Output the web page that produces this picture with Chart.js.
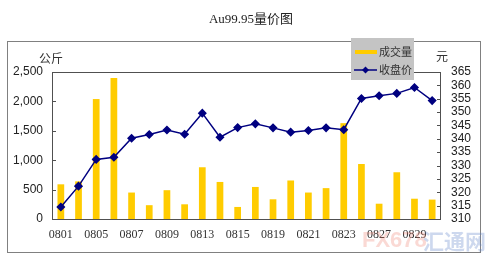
<!DOCTYPE html>
<html><head><meta charset="utf-8">
<script src="https://cdn.jsdelivr.net/npm/chart.js@4/dist/chart.umd.min.js"></script>
<style>html,body{margin:0;padding:0;background:#fff;}#wrap{width:500px;height:269px;position:relative}</style>
</head><body><div id="wrap"><canvas id="c" width="500" height="269"></canvas></div>
<script>
const categories = ['0801','0804','0805','0806','0807','0808','0809','0812','0813','0814','0815','0818','0819','0820','0821','0822','0823','0826','0827','0828','0829','0830'];
const volume = [590,640,2040,2400,450,235,490,250,880,630,205,545,335,655,450,525,1630,935,260,795,345,330];
const closePrice = [314.5,322.3,332.3,333.1,340.2,341.6,343.3,341.7,349.6,340.6,344.2,345.6,344.1,342.5,343.1,344.1,343.4,355.1,356.1,357.0,359.2,354.3];
const seriesNames = ['成交量','收盘价'];
const titleText = 'Au99.95量价图';
const leftUnit = '公斤';
const rightUnit = '元';
const volumeAxis = {min:0, max:2500, step:500};
const priceAxis = {min:310, max:365, step:5};
const watermark = ['FX678','汇通网'];

const BAR = '#FFCC00', LINE = '#000080';
const serif = '"Liberation Serif","Noto Sans CJK SC",serif';
const sans = '"Liberation Sans",Arial,sans-serif';

const decor = {
  id:'decor',
  beforeDraw(chart){
    const ctx = chart.ctx;
    ctx.save();
    ctx.fillStyle='#fff'; ctx.fillRect(0,0,chart.width,chart.height);
    ctx.strokeStyle='#808080'; ctx.lineWidth=1;
    ctx.strokeRect(7.5,41.5,473,211);
    ctx.restore();
  },
  afterDraw(chart){
    const ctx = chart.ctx, a = chart.chartArea;
    const yl = chart.scales.y, yr = chart.scales.y1;
    ctx.save();
    ctx.strokeStyle='#505050'; ctx.lineWidth=1;
    ctx.strokeRect(Math.round(a.left)+0.5, Math.round(a.top)+0.5, Math.round(a.right-a.left)-1, Math.round(a.bottom-a.top));
    yl.ticks.forEach(t=>{const y=Math.round(yl.getPixelForValue(t.value))+0.5;ctx.beginPath();ctx.moveTo(a.left,y);ctx.lineTo(a.left+4,y);ctx.stroke();});
    yr.ticks.forEach(t=>{const y=Math.round(yr.getPixelForValue(t.value))+0.5;ctx.beginPath();ctx.moveTo(a.right-4,y);ctx.lineTo(a.right,y);ctx.stroke();});
    ctx.fillStyle='#222'; ctx.textAlign='center'; ctx.textBaseline='middle';
    ctx.font='13px '+serif; ctx.fillText(titleText,251,20);
    ctx.font='12px "Noto Sans CJK SC",sans-serif'; ctx.fillStyle='#333';
    ctx.fillText(leftUnit,51,58);
    ctx.fillText(rightUnit,442,56);
    ctx.fillStyle='#c4c4c4'; ctx.fillRect(351,38,63,42);
    ctx.strokeStyle=BAR; ctx.lineWidth=4; ctx.beginPath(); ctx.moveTo(355,52); ctx.lineTo(377,52); ctx.stroke();
    ctx.strokeStyle=LINE; ctx.lineWidth=1.5; ctx.beginPath(); ctx.moveTo(354,70); ctx.lineTo(377,70); ctx.stroke();
    ctx.fillStyle=LINE; ctx.beginPath(); ctx.moveTo(365.5,66.5); ctx.lineTo(369,70); ctx.lineTo(365.5,73.5); ctx.lineTo(362,70); ctx.closePath(); ctx.fill();
    ctx.fillStyle='#333'; ctx.textAlign='left'; ctx.font='11px "Noto Sans CJK SC",sans-serif';
    ctx.fillText(seriesNames[0],379,52);
    ctx.fillText(seriesNames[1],379,70);
    ctx.globalAlpha=0.3; ctx.font='bold 22px '+sans;
    ctx.fillStyle='#f08070'; ctx.fillText(watermark[0],362,241);
    ctx.fillStyle='#5a7fc8'; ctx.font='bold 21px "Noto Sans CJK SC",sans-serif'; ctx.fillText(watermark[1],423,241);
    ctx.restore();
  }
};

new Chart(document.getElementById('c'),{
  data:{
    labels:categories,
    datasets:[
      {type:'line',label:seriesNames[1],data:closePrice,yAxisID:'y1',borderColor:LINE,backgroundColor:LINE,borderWidth:1.5,pointStyle:'rectRot',pointRadius:3.5,pointBackgroundColor:LINE,pointBorderColor:LINE,tension:0,order:0},
      {type:'bar',label:seriesNames[0],data:volume,yAxisID:'y',backgroundColor:BAR,categoryPercentage:1,barPercentage:0.38,order:1}
    ]
  },
  options:{
    responsive:false,animation:false,
    layout:{padding:{top:72,left:0,right:0,bottom:0}},
    plugins:{legend:{display:false},title:{display:false},tooltip:{enabled:false}},
    scales:{
      x:{grid:{display:false,drawTicks:false},border:{display:false},
         afterFit(s){s.height=50;},
         ticks:{autoSkip:false,maxRotation:0,padding:9,color:'#333',font:{family:serif,size:12},
           callback(v,i){return i%2===0?categories[i]:'';}}},
      y:{position:'left',min:volumeAxis.min,max:volumeAxis.max,grid:{display:false,drawTicks:false},border:{display:false},
         afterFit(s){s.width=52;},
         ticks:{stepSize:volumeAxis.step,autoSkip:false,padding:9,color:'#222',font:{family:sans,size:12},
           callback(v){return v.toLocaleString('en-US');}}},
      y1:{position:'right',min:priceAxis.min,max:priceAxis.max,grid:{display:false,drawTicks:false},border:{display:false},
         afterFit(s){s.width=59;},
         ticks:{stepSize:priceAxis.step,autoSkip:false,padding:10,color:'#222',font:{family:sans,size:12}}}
    }
  },
  plugins:[decor]
});
</script></body></html>
